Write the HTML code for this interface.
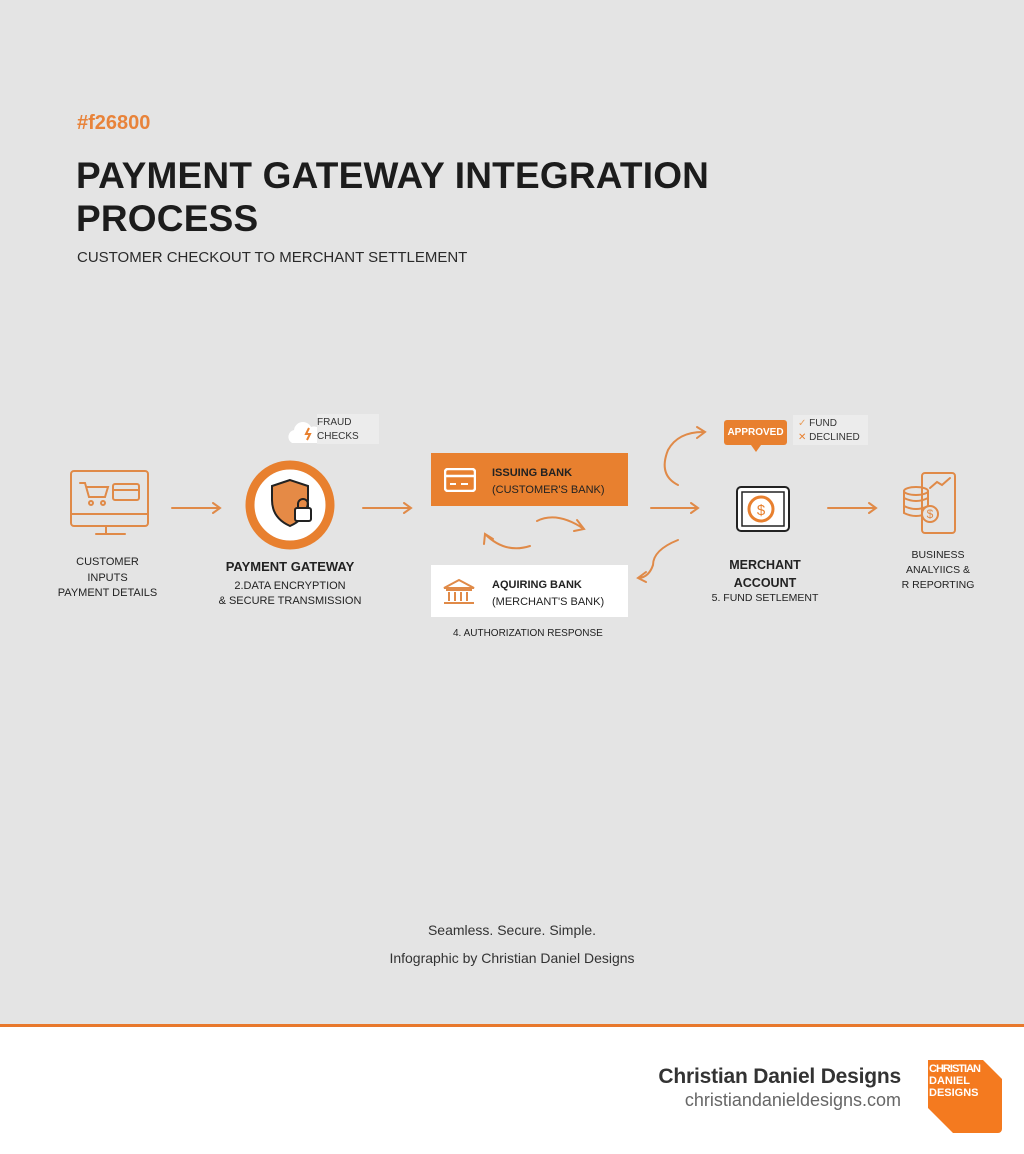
<!DOCTYPE html>
<html><head><meta charset="utf-8"><style>
body{margin:0;width:1024px;height:1154px;background:#e4e4e4;font-family:"Liberation Sans",sans-serif;position:relative;overflow:hidden}
.a{position:absolute}
.t{color:#222;text-align:center;font-size:11.5px;line-height:16px}
</style></head><body>
<div class="a" style="left:77px;top:112px;color:#e8833a;font-weight:bold;font-size:20px">#f26800</div>
<div class="a" style="left:76px;top:154px;color:#1c1c1c;font-weight:bold;font-size:37px;line-height:43px;letter-spacing:0.2px">PAYMENT GATEWAY INTEGRATION<br>PROCESS</div>
<div class="a" style="left:77px;top:249px;color:#2a2a2a;font-size:15px">CUSTOMER CHECKOUT TO MERCHANT SETTLEMENT</div>

<svg class="a" style="left:0;top:0" width="1024" height="1154">
<g fill="none" stroke="#e08a48" stroke-width="2" stroke-linecap="round">
<rect x="71" y="471" width="77" height="55" rx="3"/>
<line x1="71" y1="514" x2="148" y2="514"/>
<line x1="106" y1="526" x2="106" y2="533"/><line x1="96" y1="534" x2="125" y2="534"/>
<path d="M80 483 h5 l4 14 h16 l3 -10 h-21"/><circle cx="91" cy="503" r="2"/><circle cx="103" cy="503" r="2"/>
<rect x="113" y="484" width="26" height="16" rx="2"/><line x1="113" y1="490" x2="139" y2="490"/>
<path d="M172 508 h48 M213 503 l7 5 -7 5"/>
<path d="M363 508 h48 M404 503 l7 5 -7 5"/>
<path d="M651 508 h47 M691 503 l7 5 -7 5"/>
<path d="M828 508 h48 M869 503 l7 5 -7 5"/>
<path d="M537 521 q20 -10 47 8 M577 520 l7 9 -10 2"/>
<path d="M485 534 q20 20 45 12 M484 544 l1 -10 8 5"/>
<path d="M678 485 q-20 -10 -10 -35 q10 -18 35 -18 M697 427 l8 5 -8 6"/>
<path d="M678 540 q-25 10 -25 25 q-4 12 -14 13 M646 572 l-8 6 8 4"/>
<path d="M444 589 l15 -8 15 8 z M446 591 h26 M449 593 v9 M455 593 v9 M461 593 v9 M467 593 v9 M444 604 h30"/>
<rect x="922" y="473" width="33" height="60" rx="3"/>
<ellipse cx="916" cy="491" rx="12" ry="4"/><path d="M904 491 v22 q12 6 24 0 v-22 M904 498 q12 6 24 0 M904 506 q12 6 24 0"/>
<circle cx="930" cy="514" r="8" fill="#e4e4e4"/>
<path d="M930 488 l7 -6 5 3 8 -7"/>
</g>
<circle cx="290" cy="505" r="40" fill="#fff" stroke="#e8802f" stroke-width="9"/>
<path d="M290 480 l-18 6 v14 q0 18 18 26 q18 -8 18 -26 v-14z" fill="#e58a46" stroke="#222" stroke-width="2"/>
<rect x="295" y="508" width="16" height="13" rx="2" fill="#fff" stroke="#222" stroke-width="2"/>
<path d="M298 508 v-4 a5 5 0 0 1 10 0 v4" fill="none" stroke="#222" stroke-width="2"/>
<path d="M292 443 a7 7 0 0 1 2 -13 a9 9 0 0 1 17 -3 a7 7 0 0 1 6 16z" fill="#fff"/>
<path d="M309 428 l-3 6 h4 l-3 6" fill="none" stroke="#e8802f" stroke-width="2"/>
<rect x="317" y="414" width="62" height="30" fill="#ececec"/>
<rect x="737" y="487" width="52" height="44" rx="4" fill="#fff" stroke="#222" stroke-width="2"/>
<rect x="742" y="492" width="42" height="34" fill="none" stroke="#222" stroke-width="1.5"/>
<circle cx="761" cy="509" r="12" fill="#fff" stroke="#e8802f" stroke-width="3"/>
<text x="761" y="515" text-anchor="middle" font-size="15" fill="#e8802f" font-family="Liberation Sans">$</text>
<text x="930" y="518" text-anchor="middle" font-size="12" fill="#e08a48" font-family="Liberation Sans">$</text>
</svg>

<div class="a" style="left:317px;top:416px;font-size:10px;line-height:14px;color:#333">FRAUD<br>CHECKS</div>
<div class="a t" style="left:50px;top:555px;width:115px;font-size:11px;line-height:15.5px">CUSTOMER<br>INPUTS<br>PAYMENT DETAILS</div>
<div class="a t" style="left:210px;top:559px;width:160px;font-weight:bold;font-size:13px">PAYMENT GATEWAY</div>
<div class="a t" style="left:210px;top:579px;width:160px;font-size:11px;line-height:15px">2.DATA ENCRYPTION<br>&amp; SECURE TRANSMISSION</div>

<div class="a" style="left:431px;top:453px;width:197px;height:53px;background:#e8802f"></div>
<svg class="a" style="left:444px;top:468px" width="32" height="24"><rect x="1" y="1" width="30" height="22" rx="3" fill="none" stroke="#fff" stroke-width="2.5"/><line x1="1" y1="8" x2="31" y2="8" stroke="#fff" stroke-width="2.5"/><line x1="6" y1="16" x2="12" y2="16" stroke="#fff" stroke-width="2"/><line x1="17" y1="16" x2="24" y2="16" stroke="#fff" stroke-width="2"/></svg>
<div class="a" style="left:492px;top:465px;font-size:11px;line-height:17px;color:#222"><b>ISSUING BANK</b><br>(CUSTOMER'S BANK)</div>
<div class="a" style="left:431px;top:565px;width:197px;height:52px;background:#fff"></div>
<div class="a" style="left:492px;top:577px;font-size:11px;line-height:17px;color:#222"><b>AQUIRING BANK</b><br>(MERCHANT'S BANK)</div>
<div class="a" style="left:453px;top:628px;font-size:10px;color:#222">4. AUTHORIZATION RESPONSE</div>
<svg class="a" style="left:441px;top:578px" width="36" height="30"><path d="M3 10 l15 -8 15 8z M5 12 h26 M8 14 v9 M14 14 v9 M20 14 v9 M26 14 v9 M3 25 h30" fill="none" stroke="#e08a48" stroke-width="2"/></svg>

<div class="a" style="left:724px;top:420px;width:63px;height:25px;background:#e8802f;border-radius:3px;color:#fff;font-size:10px;line-height:25px;text-align:center;font-weight:bold">APPROVED</div>
<div class="a" style="left:751px;top:445px;width:0;height:0;border-left:5px solid transparent;border-right:5px solid transparent;border-top:7px solid #e8802f"></div>
<div class="a" style="left:793px;top:415px;width:75px;height:30px;background:#ececec"></div>
<div class="a" style="left:798px;top:417px;font-size:10px;line-height:14px;color:#333"><span style="color:#e8a060">✓</span> FUND<br><span style="color:#e8802f">✕</span> DECLINED</div>

<div class="a t" style="left:705px;top:556px;width:120px;font-weight:bold;font-size:12.5px;line-height:18px">MERCHANT<br>ACCOUNT</div>
<div class="a t" style="left:705px;top:590px;width:120px;font-size:10.5px">5. FUND SETLEMENT</div>
<div class="a t" style="left:880px;top:548px;width:116px;font-size:10.5px;line-height:15px">BUSINESS<br>ANALYIICS &amp;<br>R REPORTING</div>

<div class="a" style="left:0;top:922px;width:1024px;text-align:center;font-size:14px;color:#333">Seamless. Secure. Simple.</div>
<div class="a" style="left:0;top:950px;width:1024px;text-align:center;font-size:14px;color:#333">Infographic by Christian Daniel Designs</div>

<div class="a" style="left:0;top:1024px;width:1024px;height:3px;background:#e8782c"></div>
<div class="a" style="left:0;top:1027px;width:1024px;height:127px;background:#fff"></div>
<div class="a" style="left:600px;top:1065px;width:301px;text-align:right;font-size:21px;font-weight:bold;color:#333;letter-spacing:-0.2px">Christian Daniel Designs</div>
<div class="a" style="left:600px;top:1090px;width:301px;text-align:right;font-size:18px;color:#666">christiandanieldesigns.com</div>
<svg class="a" style="left:928px;top:1060px" width="76" height="74"><path d="M0 0 h55 l19 19 v50 a4 4 0 0 1 -4 4 h-45 l-25 -25z" fill="#f47a1f"/><text x="1" y="12" font-size="11" font-weight="bold" fill="#fff" font-family="Liberation Sans" textLength="52">CHRISTIAN</text><text x="1" y="24" font-size="11" font-weight="bold" fill="#fff" font-family="Liberation Sans">DANIEL</text><text x="1" y="36" font-size="11" font-weight="bold" fill="#fff" font-family="Liberation Sans">DESIGNS</text></svg>
</body></html>
